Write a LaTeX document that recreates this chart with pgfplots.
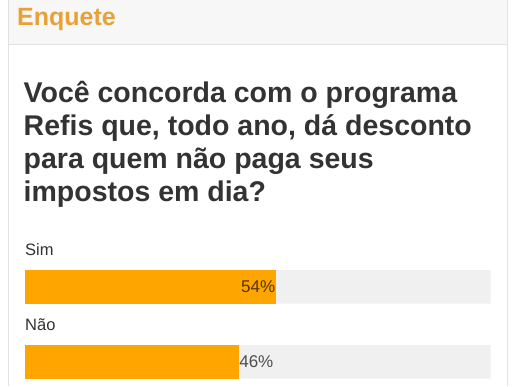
\documentclass[border=0pt]{standalone}
\usepackage{pgfplots}
\pgfplotsset{compat=1.18}
\usepackage{fontspec}
\setmainfont{Liberation Sans}
\definecolor{hdr}{HTML}{F7F7F7}
\definecolor{brd}{HTML}{E2E2E2}
\definecolor{ttl}{HTML}{E8A136}
\definecolor{qtxt}{HTML}{333333}
\definecolor{lbl}{HTML}{444444}
\definecolor{barorange}{HTML}{FFA500}
\definecolor{track}{HTML}{F0F0F0}
\begin{document}
\begin{tikzpicture}[x=1pt,y=1pt]
\fill[white] (0,0) rectangle (513,385);
\fill[hdr] (8,385) rectangle (507,341);
\draw[brd, line width=1pt] (8,341) -- (507,341);
\draw[brd, line width=1pt] (8,0) -- (8,385);
\draw[brd, line width=1pt] (507,0) -- (507,385);
\node[anchor=base west, inner sep=0, text=ttl, font=\fontsize{25}{30}\selectfont\bfseries] at (17,360) {Enquete};
\begin{scope}[every node/.style={anchor=base west, inner sep=0, text=qtxt, font=\fontsize{28.5}{33}\selectfont\bfseries}]
\node at (23.5,283) {Você concorda com o programa};
\node at (23.5,250) {Refis que, todo ano, dá desconto};
\node at (23.5,217) {para quem não paga seus};
\node at (23.5,184) {impostos em dia?};
\end{scope}
\begin{scope}[every node/.style={anchor=base west, inner sep=0, text=qtxt, font=\fontsize{16.5}{20}\selectfont}]
\node at (25,130) {Sim};
\node at (25,55) {Não};
\end{scope}
\begin{axis}[at={(25pt,1.2pt)}, anchor=south west, scale only axis,
  width=465.5pt, height=120pt, xmin=0, xmax=100, ymin=-0.3, ymax=1.3,
  axis lines=none, xbar, bar width=33.5pt, bar shift=0pt, clip=false,
  point meta=x, /pgf/number format/assume math mode=true]
\addplot[fill=track, draw=none] coordinates {(100,1) (100,0)};
\addplot[fill=barorange, draw=none, nodes near coords={\pgfmathprintnumber{\pgfplotspointmeta}\%},
  every node near coord/.append style={anchor=base east, inner sep=0, xshift=-1pt, yshift=-5.6pt, text=black, text opacity=0.68, font=\fontsize{17}{20}\selectfont}]
  coordinates {(54,1)};
\addplot[fill=barorange, draw=none, nodes near coords={\pgfmathprintnumber{\pgfplotspointmeta}\%},
  every node near coord/.append style={anchor=base west, inner sep=0, xshift=0pt, yshift=-5.4pt, text=black, text opacity=0.68, font=\fontsize{17}{20}\selectfont}]
  coordinates {(46,0)};
\end{axis}
\end{tikzpicture}
\end{document}
